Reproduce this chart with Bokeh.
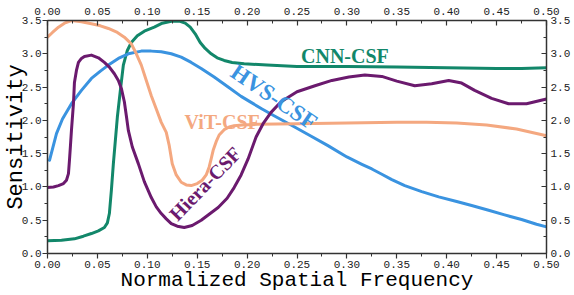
from bokeh.plotting import figure
from bokeh.models import LinearAxis, SingleIntervalTicker, PrintfTickFormatter
from bokeh.core.properties import value
from bokeh.embed import file_html
from bokeh.resources import INLINE
import math

# ---- data ----
hvs_f = [0.002,0.009,0.015,0.024,0.034,0.044,0.053,0.061,0.071,0.081,0.094,0.104,0.114,0.124,0.134,0.144,0.154,0.167,0.181,0.194,0.204,0.215,0.227,0.244,0.262,0.281,0.300,0.315,0.325,0.335,0.345,0.358,0.375,0.392,0.410,0.425,0.442,0.458,0.475,0.490,0.50]
hvs_v = [1.40,1.80,2.02,2.25,2.45,2.63,2.74,2.83,2.93,3.00,3.04,3.04,3.03,3.00,2.95,2.87,2.78,2.65,2.50,2.36,2.27,2.17,2.07,1.93,1.78,1.62,1.45,1.34,1.27,1.19,1.11,1.02,0.93,0.85,0.78,0.72,0.65,0.58,0.51,0.44,0.40]

cnn_f = [0.0,0.014,0.027,0.036,0.044,0.051,0.057,0.060,0.062,0.064,0.066,0.068,0.070,0.073,0.076,0.080,0.084,0.090,0.097,0.107,0.115,0.124,0.132,0.138,0.143,0.148,0.153,0.158,0.164,0.170,0.177,0.185,0.197,0.22,0.25,0.30,0.35,0.40,0.45,0.475,0.50]
cnn_v = [0.19,0.20,0.22,0.26,0.30,0.34,0.39,0.46,0.60,0.95,1.35,1.70,2.05,2.45,2.83,3.05,3.17,3.27,3.34,3.40,3.46,3.49,3.49,3.46,3.40,3.30,3.17,3.08,3.00,2.94,2.90,2.87,2.85,2.83,2.81,2.81,2.80,2.79,2.78,2.78,2.79]

hiera_f = [0.0,0.006,0.011,0.016,0.019,0.021,0.022,0.023,0.024,0.026,0.027,0.029,0.031,0.034,0.037,0.044,0.051,0.057,0.062,0.067,0.071,0.074,0.077,0.079,0.081,0.085,0.091,0.097,0.104,0.109,0.114,0.119,0.124,0.130,0.137,0.145,0.154,0.162,0.171,0.180,0.187,0.194,0.201,0.209,0.216,0.224,0.234,0.250,0.268,0.285,0.302,0.318,0.335,0.350,0.368,0.385,0.402,0.415,0.428,0.445,0.462,0.480,0.50]
hiera_v = [0.99,1.00,1.02,1.05,1.10,1.20,1.40,1.62,1.85,2.25,2.57,2.75,2.87,2.93,2.96,2.98,2.94,2.87,2.80,2.70,2.60,2.48,2.28,2.07,1.85,1.60,1.35,1.08,0.84,0.70,0.60,0.52,0.45,0.41,0.39,0.42,0.50,0.59,0.69,0.83,0.99,1.18,1.42,1.75,1.95,2.12,2.28,2.43,2.52,2.60,2.65,2.68,2.66,2.59,2.52,2.55,2.60,2.56,2.45,2.33,2.25,2.25,2.32]

vit_f = [0.0,0.005,0.011,0.017,0.024,0.034,0.044,0.053,0.061,0.070,0.077,0.084,0.089,0.094,0.099,0.104,0.109,0.114,0.119,0.122,0.125,0.129,0.134,0.139,0.144,0.150,0.155,0.159,0.162,0.164,0.166,0.169,0.172,0.177,0.182,0.187,0.195,0.21,0.25,0.30,0.35,0.38,0.41,0.44,0.47,0.50]
vit_v = [3.25,3.32,3.40,3.46,3.50,3.48,3.45,3.42,3.38,3.32,3.25,3.15,3.00,2.83,2.60,2.37,2.17,1.97,1.82,1.62,1.35,1.18,1.07,1.03,1.02,1.05,1.10,1.18,1.30,1.42,1.55,1.68,1.78,1.86,1.90,1.92,1.93,1.94,1.95,1.96,1.97,1.97,1.96,1.93,1.87,1.77]

names = ["CNN-CSF", "HVS-CSF", "ViT-CSF", "Hiera-CSF"]
colors = ["#12876a", "#3a93e0", "#f4a880", "#6b1a6e"]
label_f = [0.298, 0.227, 0.175, 0.158]
label_v = [2.97, 2.35, 1.97, 1.05]
label_deg = [0, -34, 0, 46]
label_size = ["20px", "23px", "20px", "20px"]

x_label = "Normalized Spatial Frequency"
y_label = "Sensitivity"

# ---- figure ----
p = figure(frame_width=499, frame_height=233, x_range=(0, 0.5), y_range=(0, 3.5),
           output_backend="svg", toolbar_location=None, min_border=0,
           min_border_right=29, min_border_top=20)
p.background_fill_color = "white"
p.border_fill_color = "white"
p.outline_line_color = None
p.grid.visible = False

tick_font = "Liberation Mono"
axcol = "#333333"

def style(ax, inward):
    ax.axis_line_color = axcol
    ax.axis_line_width = 1.5
    ax.major_tick_line_color = axcol
    ax.minor_tick_line_color = axcol
    ax.major_tick_line_width = 1.2
    ax.minor_tick_line_width = 1.0
    if inward:
        ax.major_tick_in, ax.major_tick_out = 5, 0
        ax.minor_tick_in, ax.minor_tick_out = 3, 0
    else:
        ax.major_tick_in, ax.major_tick_out = 0, 5
        ax.minor_tick_in, ax.minor_tick_out = 0, 3
    ax.major_label_text_font = tick_font
    ax.major_label_text_font_size = "11px"
    ax.major_label_text_color = "#222222"
    ax.major_label_standoff = 2

xt = dict(interval=0.05, num_minor_ticks=2)
yt = dict(interval=0.5, num_minor_ticks=2)

p.xaxis.ticker = SingleIntervalTicker(**xt)
p.yaxis.ticker = SingleIntervalTicker(**yt)
p.xaxis.formatter = PrintfTickFormatter(format="%.2f")
p.yaxis.formatter = PrintfTickFormatter(format="%.1f")
style(p.xaxis[0], False)
style(p.yaxis[0], False)
p.yaxis.major_label_standoff = 1
p.xaxis.axis_label = x_label
p.yaxis.axis_label = y_label
for ax in (p.xaxis[0], p.yaxis[0]):
    ax.axis_label_text_font = "Liberation Mono"
    ax.axis_label_text_font_style = "normal"
    ax.axis_label_text_color = "black"
p.xaxis.axis_label_text_font_size = "21px"
p.yaxis.axis_label_text_font_size = "22px"
p.xaxis.axis_label_standoff = -2
p.yaxis.axis_label_standoff = -10

top = LinearAxis(ticker=SingleIntervalTicker(**xt), formatter=PrintfTickFormatter(format="%.2f"))
right = LinearAxis(ticker=SingleIntervalTicker(**yt), formatter=PrintfTickFormatter(format="%.1f"))
style(top, True)
style(right, True)
top.major_label_standoff = 6
right.major_label_standoff = 4
p.add_layout(top, "above")
p.add_layout(right, "right")

series = [(cnn_f, cnn_v), (hvs_f, hvs_v), (vit_f, vit_v), (hiera_f, hiera_v)]
for (fx, vy), c in zip(series, colors):
    p.line(fx, vy, line_color=c, line_width=3, line_join="round", line_cap="round")

for n, c, fx, vy, d, s in zip(names, colors, label_f, label_v, label_deg, label_size):
    p.text(x=[fx], y=[vy], text=[n], angle=math.radians(d), text_color=c,
           text_font=value("Liberation Serif"), text_font_style="bold",
           text_font_size=s, text_align="center", text_baseline="middle")

open("out.html", "w").write(file_html(p, INLINE))
